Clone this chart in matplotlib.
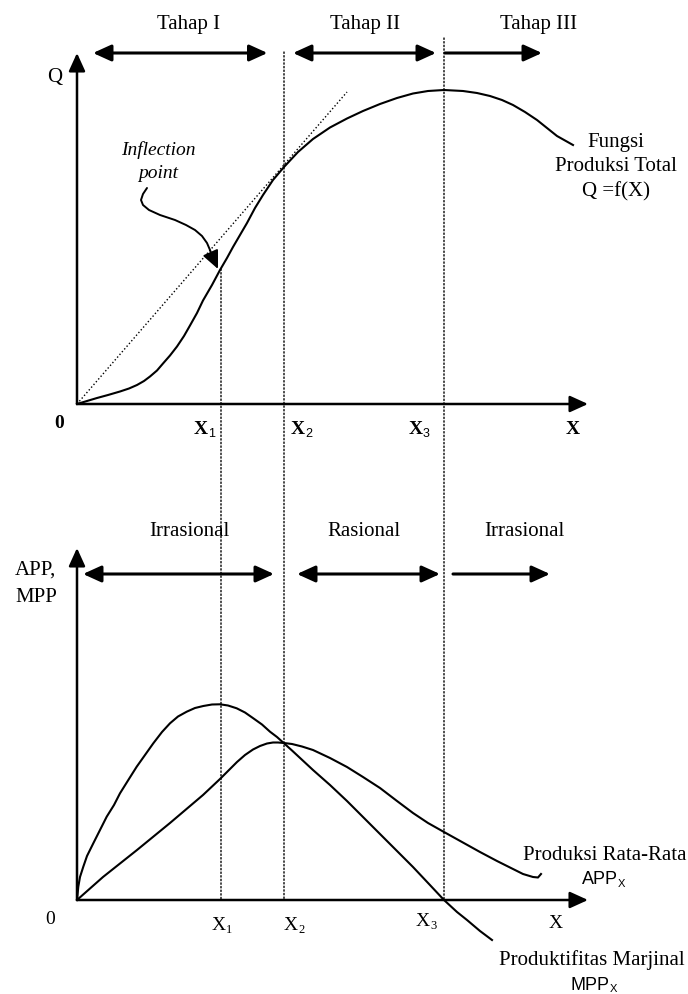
import matplotlib.pyplot as plt
from matplotlib.patches import ConnectionPatch, FancyArrowPatch
from matplotlib.path import Path

plt.rcParams['font.family'] = ['Liberation Serif', 'DejaVu Serif']

# stage boundaries on the input axis
x1, x2, x3 = 14.4, 20.7, 36.7

# total product curve Q = f(X)
tp_x = [0, 1.0, 2.0, 3.1, 4.3, 5.2, 6.0, 6.7, 7.3, 8.0, 8.6, 9.3, 10.0, 10.7, 11.3,
        12.0, 12.6, 13.5, 14.3, 15.0, 15.6, 16.3, 17.0, 17.8, 18.6, 19.6, 20.7, 22.1,
        23.6, 25.3, 27.0, 28.6, 30.3, 32.0, 33.6, 35.1, 36.7, 38.6, 40.0, 41.3, 42.5,
        43.6, 44.8, 46.0, 47.0, 48.0, 49.6]
tp_q = [0, 0.3, 0.6, 0.9, 1.25, 1.55, 1.9, 2.3, 2.75, 3.35, 4.05, 4.85, 5.75, 6.8, 7.85,
        9.1, 10.35, 11.9, 13.4, 14.6, 15.7, 16.9, 18.1, 19.6, 20.9, 22.4, 23.7, 25.2,
        26.5, 27.65, 28.55, 29.3, 30.0, 30.6, 31.05, 31.3, 31.4, 31.3, 31.1, 30.8, 30.4,
        29.9, 29.2, 28.4, 27.6, 26.8, 25.9]

# ray from origin tangent at X2
ray_x = [0, 27.0]
ray_q = [0, 31.2]

# pointer to inflection point
infl_x = [7.0, 6.6, 6.4, 6.6, 7.2, 8.3, 9.8, 10.9, 11.8, 12.5, 13.0, 13.3, 13.6, 14.1]
infl_q = [21.6, 21.0, 20.4, 19.9, 19.4, 18.9, 18.4, 17.9, 17.4, 16.8, 16.1, 15.4, 14.6, 13.5]

# marginal product
mpp_x = [0, 0.13, 0.3, 0.63, 1.0, 1.63, 2.3, 2.97, 3.7, 4.3, 5.1, 5.97, 6.8, 7.63, 8.5,
         9.3, 10.1, 10.97, 11.8, 12.63, 13.5, 14.3, 15.1, 15.97, 16.8, 17.63, 18.5, 19.3,
         20.0, 20.7, 21.5, 22.2, 23.6, 25.3, 27.0, 28.6, 30.3, 32.0, 33.6, 35.2, 36.7,
         38.0, 39.0, 40.3, 41.5]
mpp_y = [0, 1.33, 2.3, 3.33, 4.4, 5.67, 7.0, 8.33, 9.5, 10.67, 11.95, 13.33, 14.5, 15.67,
         16.8, 17.67, 18.35, 18.83, 19.2, 19.4, 19.55, 19.57, 19.45, 19.17, 18.75, 18.17,
         17.55, 16.83, 16.3, 15.67, 14.95, 14.3, 13.0, 11.5, 9.9, 8.3, 6.6, 4.9, 3.3, 1.6,
         0, -1.2, -2.0, -3.1, -4.0]

# average product
app_x = [0, 2.6, 6.0, 9.3, 12.6, 14.3, 15.2, 16.0, 16.8, 17.6, 18.3, 19.0, 19.6, 20.1,
         20.7, 21.5, 22.5, 23.6, 25.3, 27.0, 28.6, 30.3, 32.0, 33.6, 35.1, 36.7, 38.5,
         40.3, 42.0, 43.6, 44.6, 45.6, 46.1, 46.4]
app_y = [0, 2.3, 5.0, 7.7, 10.5, 12.1, 13.0, 13.8, 14.5, 15.05, 15.4, 15.65, 15.75, 15.75,
         15.7, 15.6, 15.35, 15.0, 14.2, 13.3, 12.3, 11.2, 9.9, 8.7, 7.7, 6.8, 5.8, 4.8,
         3.9, 3.1, 2.6, 2.3, 2.25, 2.6]

stage_top = ["Tahap I", "Tahap II", "Tahap III"]
stage_bot = ["Irrasional", "Rasional", "Irrasional"]

W, H = 688, 994
fig = plt.figure(figsize=(W / 100, H / 100), dpi=100)
ax_top = fig.add_axes([77 / W, (H - 404) / H, 520 / W, 360 / H])
ax_bot = fig.add_axes([77 / W, (H - 900) / H, 520 / W, 360 / H])
for ax in (ax_top, ax_bot):
    ax.set_xlim(0, 52)
    ax.set_ylim(0, 36)
    ax.axis('off')

HEAD = ',head_length=1.1,head_width=0.5'
FS = 15


def arrow(ax, start, end, style, lw=1.8):
    ax.annotate('', xy=end, xytext=start, annotation_clip=False,
                arrowprops=dict(arrowstyle=style + HEAD, color='black', lw=lw,
                                shrinkA=0, shrinkB=0, mutation_scale=10))


def xlabel(ax, x, y, sub, bold=False, subfam=None, size=14):
    w = 'bold' if bold else 'normal'
    ax.text(x, y, 'X', ha='right', va='center', fontsize=size, fontweight=w)
    if sub:
        kw = dict(family=subfam) if subfam else {}
        ax.text(x, y - 0.4, sub, ha='left', va='center', fontsize=9, **kw)


# ---------- top panel ----------
arrow(ax_top, (0, 0), (51.1, 0), '-|>')
arrow(ax_top, (0, 0), (0, 35.1), '-|>')
ax_top.plot(tp_x, tp_q, color='black', lw=1.5, clip_on=False)
ax_top.plot(ray_x, ray_q, color='black', lw=1.0, ls=(0, (1, 1.6)), clip_on=False)

for (a, b, st), name, tx in zip([(1.6, 19.05, '<|-|>'), (21.6, 35.9, '<|-|>'),
                                 (36.8, 46.5, '-|>')], stage_top, [11.2, 28.8, 46.2]):
    arrow(ax_top, (a, 35.1), (b, 35.1), st, lw=2.2)
    ax_top.text(tx, 38.0, name, ha='center', va='center', fontsize=FS)

ax_top.text(-2.2, 32.7, 'Q', ha='center', va='center', fontsize=FS)
ax_top.text(-1.8, -1.9, '0', ha='center', va='center', fontsize=14, fontweight='bold')
xlabel(ax_top, 13.1, -2.6, '1', bold=True, subfam='Liberation Sans')
xlabel(ax_top, 22.8, -2.6, '2', bold=True, subfam='Liberation Sans')
xlabel(ax_top, 34.6, -2.6, '3', bold=True, subfam='Liberation Sans')
ax_top.text(49.6, -2.6, 'X', ha='center', va='center', fontsize=14, fontweight='bold')

ax_top.text(8.1, 25.4, 'Inflection', ha='center', va='center', fontsize=14, style='italic')
ax_top.text(8.1, 23.1, 'point', ha='center', va='center', fontsize=14, style='italic')
ptr = FancyArrowPatch(path=Path(list(zip(infl_x, infl_q))), arrowstyle='-|>' + HEAD,
                      mutation_scale=10, color='black', lw=1.4,
                      transform=ax_top.transData, clip_on=False)
ax_top.add_patch(ptr)

ax_top.text(53.9, 23.7, 'Fungsi\nProduksi Total\nQ =f(X)', ha='center', va='center',
            fontsize=FS, linespacing=1.4)

# ---------- bottom panel ----------
arrow(ax_bot, (0, 0), (51.1, 0), '-|>')
arrow(ax_bot, (0, 0), (0, 35.2), '-|>')
ax_bot.plot(mpp_x, mpp_y, color='black', lw=1.5, clip_on=False)
ax_bot.plot(app_x, app_y, color='black', lw=1.5, clip_on=False)

for (a, b, st), name, tx in zip([(0.6, 19.7, '<|-|>'), (22.0, 36.3, '<|-|>'),
                                 (37.6, 47.3, '-|>')], stage_bot, [11.2, 28.7, 44.7]):
    arrow(ax_bot, (a, 32.6), (b, 32.6), st, lw=2.2)
    ax_bot.text(tx, 36.8, name, ha='center', va='center', fontsize=FS)

ax_bot.text(-6.2, 33.0, 'APP,', ha='left', va='center', fontsize=FS)
ax_bot.text(-6.2, 30.3, 'MPP', ha='left', va='center', fontsize=FS)
ax_bot.text(-2.7, -2.0, '0', ha='center', va='center', fontsize=14)
xlabel(ax_bot, 14.9, -2.6, '1')
xlabel(ax_bot, 22.1, -2.6, '2')
xlabel(ax_bot, 35.3, -2.2, '3')
ax_bot.text(47.9, -2.3, 'X', ha='center', va='center', fontsize=14)

ax_bot.text(44.6, 4.5, 'Produksi Rata-Rata', ha='left', va='center', fontsize=FS)
ax_bot.text(54.1, 2.0, 'APP', ha='right', va='center', fontsize=13, family='Liberation Sans')
ax_bot.text(54.1, 1.6, 'X', ha='left', va='center', fontsize=8, family='Liberation Sans')
ax_bot.text(51.5, -6.0, 'Produktifitas Marjinal', ha='center', va='center', fontsize=FS)
ax_bot.text(53.3, -8.5, 'MPP', ha='right', va='center', fontsize=13, family='Liberation Sans')
ax_bot.text(53.3, -8.9, 'X', ha='left', va='center', fontsize=8, family='Liberation Sans')

# dotted guides running through both panels
for gx, gy in [(x1, 13.5), (x2, 35.2), (x3, 36.6)]:
    con = ConnectionPatch(xyA=(gx, gy), coordsA=ax_top.transData,
                          xyB=(gx, 0), coordsB=ax_bot.transData,
                          color='black', lw=1.0, ls=(0, (1, 1.6)))
    fig.add_artist(con)

fig.savefig('out.png', dpi=100)
